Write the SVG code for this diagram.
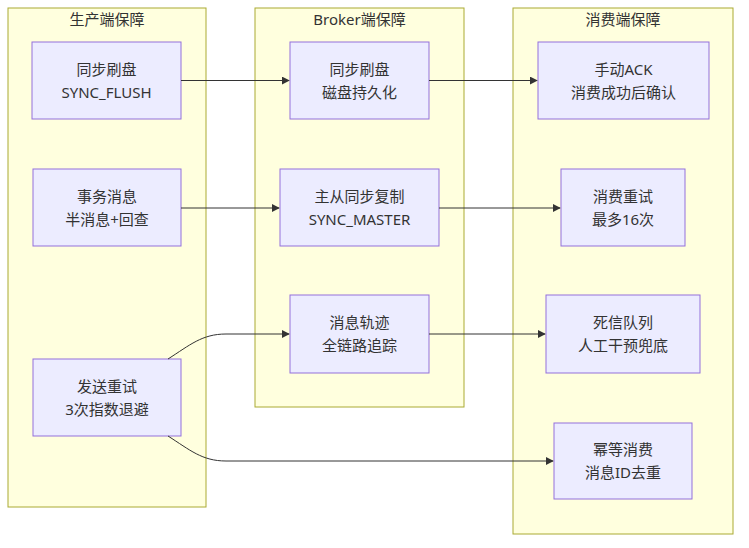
<svg xmlns="http://www.w3.org/2000/svg" width="749" height="548" viewBox="0 0 749 548">
<defs>
<marker id="arr" viewBox="0 0 10 10" refX="9" refY="5" markerWidth="8" markerHeight="8" markerUnits="userSpaceOnUse" orient="auto">
<path d="M0,0 L10,5 L0,10 z" fill="#333333"/>
</marker>
<style>
.cl{fill:#ffffde;stroke:#aaaa33;stroke-width:1}
.nd{fill:#ECECFF;stroke:#9370DB;stroke-width:1}
text{font-family:"Trebuchet MS","Noto Sans","Noto Sans CJK SC",sans-serif;font-size:15px;fill:#333333;text-anchor:middle}
.e{fill:none;stroke:#333333;stroke-width:1;marker-end:url(#arr)}
</style>
</defs>
<rect width="749" height="548" fill="#ffffff"/>
<g id="producer">
<rect class="cl" x="8" y="8" width="198" height="499"/>
<text x="107" y="25">生产端保障</text>
</g>
<g id="broker">
<rect class="cl" x="255" y="8" width="209" height="399"/>
<text x="359.5" y="25">Broker端保障</text>
</g>
<g id="consumer">
<rect class="cl" x="513" y="8" width="220" height="526"/>
<text x="623" y="25">消费端保障</text>
</g>
<g id="P1"><rect class="nd" x="32" y="42" width="149" height="77"/><text x="106.5" y="75">同步刷盘</text><text x="106.5" y="98">SYNC_FLUSH</text></g>
<g id="P2"><rect class="nd" x="33" y="169" width="148" height="77"/><text x="107" y="202">事务消息</text><text x="107" y="225">半消息+回查</text></g>
<g id="P3"><rect class="nd" x="33" y="359" width="148" height="77"/><text x="107" y="392">发送重试</text><text x="107" y="415">3次指数退避</text></g>
<g id="B1"><rect class="nd" x="290" y="42" width="139" height="77"/><text x="359.5" y="75">同步刷盘</text><text x="359.5" y="98">磁盘持久化</text></g>
<g id="B2"><rect class="nd" x="280" y="169" width="159" height="77"/><text x="359.5" y="202">主从同步复制</text><text x="359.5" y="225">SYNC_MASTER</text></g>
<g id="B3"><rect class="nd" x="290" y="295" width="139" height="78"/><text x="359.5" y="328">消息轨迹</text><text x="359.5" y="351">全链路追踪</text></g>
<g id="C1"><rect class="nd" x="538" y="42" width="171" height="77"/><text x="623.5" y="75">手动ACK</text><text x="623.5" y="98">消费成功后确认</text></g>
<g id="C2"><rect class="nd" x="561" y="169" width="124" height="77"/><text x="623" y="202">消费重试</text><text x="623" y="225">最多16次</text></g>
<g id="C3"><rect class="nd" x="546" y="295" width="154" height="78"/><text x="623" y="328">死信队列</text><text x="623" y="351">人工干预兜底</text></g>
<g id="C4"><rect class="nd" x="554" y="423" width="138" height="76"/><text x="623" y="455">幂等消费</text><text x="623" y="478">消息ID去重</text></g>
<g id="edges">
<path class="e" d="M181,80.5 L289,80.5"/>
<path class="e" d="M429,80.5 L537,80.5"/>
<path class="e" d="M181,208 L279,208"/>
<path class="e" d="M439,208 L560,208"/>
<path class="e" d="M168,359 C190,345 202,334 226,334 L289,334"/>
<path class="e" d="M429,334 L545,334"/>
<path class="e" d="M168,436 C190,450 202,461 226,461 L553,461"/>
</g>
</svg>
